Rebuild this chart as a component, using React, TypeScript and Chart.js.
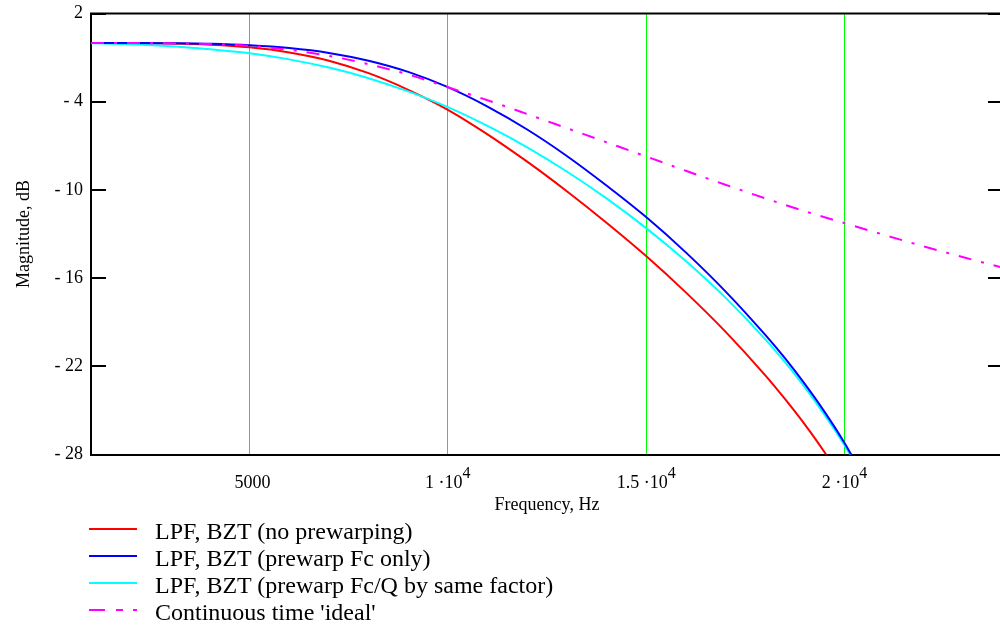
import React, { useEffect, useRef } from 'react';
import { Chart, registerables } from 'chart.js';

Chart.register(...registerables);

// ---------- data ----------
const redFreqs = [1000, 2000, 3000, 4000, 5000, 6000, 7000, 8000, 9000, 10000, 11000, 12000, 13000, 14000, 15000, 16000, 17000, 18000, 18500, 19000, 19500, 20000];
const redDb = [0.0, -0.01, -0.04, -0.12, -0.3, -0.65, -1.21, -2.06, -3.19, -4.55, -6.22, -8.08, -10.09, -12.23, -14.5, -16.97, -19.64, -22.6, -24.22, -25.95, -27.85, -30.0];

const blueFreqs = [1000, 2000, 3000, 4000, 5000, 6000, 7000, 8000, 9000, 10000, 11000, 12000, 13000, 14000, 15000, 16000, 17000, 18000, 18500, 19000, 19500, 20000, 20500];
const blueDb = [0.0, 0.0, -0.02, -0.06, -0.16, -0.35, -0.68, -1.21, -1.97, -3.01, -4.33, -5.89, -7.69, -9.7, -11.85, -14.25, -16.9, -19.85, -21.45, -23.2, -25.1, -27.2, -29.6];

const cyanFreqs = [1000, 2000, 3000, 4000, 5000, 6000, 7000, 8000, 9000, 10000, 11000, 12000, 13000, 14000, 15000, 16000, 17000, 18000, 18500, 19000, 19500, 20000, 20500];
const cyanDb = [-0.02, -0.1, -0.23, -0.44, -0.7, -1.12, -1.68, -2.4, -3.3, -4.37, -5.65, -7.1, -8.75, -10.58, -12.6, -14.84, -17.33, -20.15, -21.72, -23.42, -25.3, -27.35, -29.7];

const idealFreqs = [1000, 2000, 3000, 4000, 5000, 6000, 7000, 8000, 9000, 10000, 11000, 12000, 13000, 14000, 15000, 16000, 17000, 18000, 19000, 20000, 21000, 22000, 23000, 24000];
const idealDb = [0.0, -0.01, -0.03, -0.08, -0.2, -0.47, -0.88, -1.45, -2.15, -3.02, -3.9, -4.84, -5.8, -6.76, -7.72, -8.7, -9.65, -10.57, -11.45, -12.26, -13.06, -13.84, -14.58, -15.3];

const seriesLabels = [
  'LPF, BZT (no prewarping)',
  'LPF, BZT (prewarp Fc only)',
  'LPF, BZT (prewarp Fc/Q by same factor)',
  "Continuous time 'ideal'",
];
const seriesColors = ['#ff0000', '#0000ff', '#00ffff', '#ff00ff'];

const xTicks = [5000, 10000, 15000, 20000];
const xTickMain = ['5000', '1 \u00b710', '1.5 \u00b710', '2 \u00b710'];
const xTickSup = ['', '4', '4', '4'];
const yTicks = [2, -4, -10, -16, -22, -28];
const yTickLabels = ['2', '- 4', '- 10', '- 16', '- 22', '- 28'];

const xMin = 1000;
const xMax = 24000;
const yMin = -28;
const yMax = 2;

const SERIF = "'Liberation Serif', 'Times New Roman', Times, serif";
const CW = 1003;
const CH = 520;

function pts(xs: number[], ys: number[]) {
  return xs.map((x, i) => ({ x, y: ys[i] }));
}

function LegendSample({ color, dashed }: { color: string; dashed?: boolean }) {
  return (
    <svg width={50} height={6} style={{ position: 'absolute', left: 88, top: 8 }}>
      {dashed ? (
        <g stroke={color} strokeWidth={2}>
          <line x1={1} y1={3} x2={17} y2={3} />
          <line x1={28} y1={3} x2={35} y2={3} />
          <line x1={45} y1={3} x2={49} y2={3} />
        </g>
      ) : (
        <line x1={1} y1={3} x2={49} y2={3} stroke={color} strokeWidth={2} />
      )}
    </svg>
  );
}

export default function App() {
  const ref = useRef<HTMLCanvasElement>(null);

  useEffect(() => {
    const canvas = ref.current;
    if (!canvas) return;

    const frame = {
      id: 'frame',
      afterDraw(chart: any) {
        const { ctx, chartArea: a, scales } = chart;
        const ys = scales.y;
        const xs = scales.x;
        ctx.save();
        ctx.strokeStyle = '#000';
        ctx.lineWidth = 2;
        ctx.beginPath();
        ctx.moveTo(a.left - 1, a.top);
        ctx.lineTo(a.right, a.top);
        for (const v of yTicks) {
          const py = Math.round(ys.getPixelForValue(v));
          ctx.moveTo(a.left, py);
          ctx.lineTo(a.left + 15, py);
          ctx.moveTo(a.right - 15, py);
          ctx.lineTo(a.right, py);
        }
        ctx.stroke();

        ctx.fillStyle = '#000';
        ctx.textBaseline = 'alphabetic';
        ctx.textAlign = 'left';
        xTicks.forEach((v, i) => {
          const main = xTickMain[i];
          const sup = xTickSup[i];
          ctx.font = `18px ${SERIF}`;
          const mw = ctx.measureText(main).width;
          ctx.font = `16px ${SERIF}`;
          const sw = sup ? ctx.measureText(sup).width : 0;
          const px = xs.getPixelForValue(v);
          const sx = px - (mw + sw) / 2 + (sup ? 0 : 3);
          ctx.font = `18px ${SERIF}`;
          ctx.fillText(main, sx, 488);
          if (sup) {
            ctx.font = `16px ${SERIF}`;
            ctx.fillText(sup, sx + mw, 478);
          }
        });
        ctx.restore();
      },
    };

    const chart = new Chart(canvas, {
      type: 'line',
      data: {
        datasets: [
          {
            label: seriesLabels[3],
            data: pts(idealFreqs, idealDb),
            borderColor: seriesColors[3],
            borderWidth: 2,
            borderDash: [13, 10, 3, 10],
            pointRadius: 0,
            cubicInterpolationMode: 'monotone',
            fill: false,
          },
          {
            label: seriesLabels[1],
            data: pts(blueFreqs, blueDb),
            borderColor: seriesColors[1],
            borderWidth: 2,
            pointRadius: 0,
            cubicInterpolationMode: 'monotone',
            fill: false,
          },
          {
            label: seriesLabels[2],
            data: pts(cyanFreqs, cyanDb),
            borderColor: seriesColors[2],
            borderWidth: 2,
            pointRadius: 0,
            cubicInterpolationMode: 'monotone',
            fill: false,
          },
          {
            label: seriesLabels[0],
            data: pts(redFreqs, redDb),
            borderColor: seriesColors[0],
            borderWidth: 2,
            pointRadius: 0,
            cubicInterpolationMode: 'monotone',
            fill: false,
          },
        ],
      },
      options: {
        animation: false,
        responsive: false,
        maintainAspectRatio: false,
        devicePixelRatio: 1,
        layout: { padding: { top: 13.5, left: 0, right: 0, bottom: 0 } },
        plugins: {
          legend: { display: false },
          tooltip: { enabled: false },
        },
        events: [],
        scales: {
          x: {
            type: 'linear',
            min: xMin,
            max: xMax,
            afterBuildTicks: (scale: any) => {
              scale.ticks = xTicks.map((v) => ({ value: v }));
            },
            afterFit: (scale: any) => {
              scale.height = CH - 454.5;
              scale.paddingLeft = 0;
              scale.paddingRight = 0;
              scale.paddingTop = 0;
              scale.paddingBottom = 0;
            },
            ticks: { display: false },
            grid: {
              color: '#00ff00',
              lineWidth: 1,
              drawTicks: false,
              drawOnChartArea: true,
            },
            border: { display: true, color: '#000', width: 2 },
            title: {
              display: true,
              text: 'Frequency, Hz',
              color: '#000',
              font: { family: SERIF, size: 18 },
              padding: { top: 4, bottom: 4 },
            },
          },
          y: {
            type: 'linear',
            min: yMin,
            max: yMax,
            afterBuildTicks: (scale: any) => {
              scale.ticks = yTicks.map((v) => ({ value: v }));
            },
            afterFit: (scale: any) => {
              scale.width = 91;
              scale.paddingTop = 0;
              scale.paddingBottom = 0;
              scale.paddingLeft = 0;
              scale.paddingRight = 0;
            },
            ticks: {
              color: '#000',
              font: { family: SERIF, size: 18 },
              padding: 8,
              callback: (value: any) => {
                const i = yTicks.indexOf(Number(value));
                return i >= 0 ? yTickLabels[i] : '';
              },
            },
            grid: { display: true, drawOnChartArea: false, drawTicks: false },
            border: { display: true, color: '#000', width: 2 },
            title: {
              display: true,
              text: 'Magnitude, dB',
              color: '#000',
              font: { family: SERIF, size: 18 },
              padding: { top: 13, bottom: 13 },
            },
          },
        },
      },
      plugins: [frame],
    } as any);

    return () => chart.destroy();
  }, []);

  const rowTops = [518, 545, 572, 599];

  return (
    <div
      style={{
        position: 'fixed',
        left: 0,
        top: 0,
        width: 1000,
        height: 627,
        overflow: 'hidden',
        background: '#fff',
      }}
    >
      <canvas ref={ref} width={CW} height={CH} style={{ display: 'block', position: 'absolute', left: 0, top: 0 }} />
      {seriesLabels.map((label, i) => (
        <div
          key={label}
          style={{
            position: 'absolute',
            left: 0,
            top: rowTops[i],
            height: 27.6,
            width: 1000,
          }}
        >
          <LegendSample color={seriesColors[i]} dashed={i === 3} />
          <span
            style={{
              position: 'absolute',
              left: 155,
              top: 0,
              fontFamily: SERIF,
              fontSize: 24,
              lineHeight: '27.6px',
              color: '#000',
              whiteSpace: 'nowrap',
            }}
          >
            {label}
          </span>
        </div>
      ))}
    </div>
  );
}
